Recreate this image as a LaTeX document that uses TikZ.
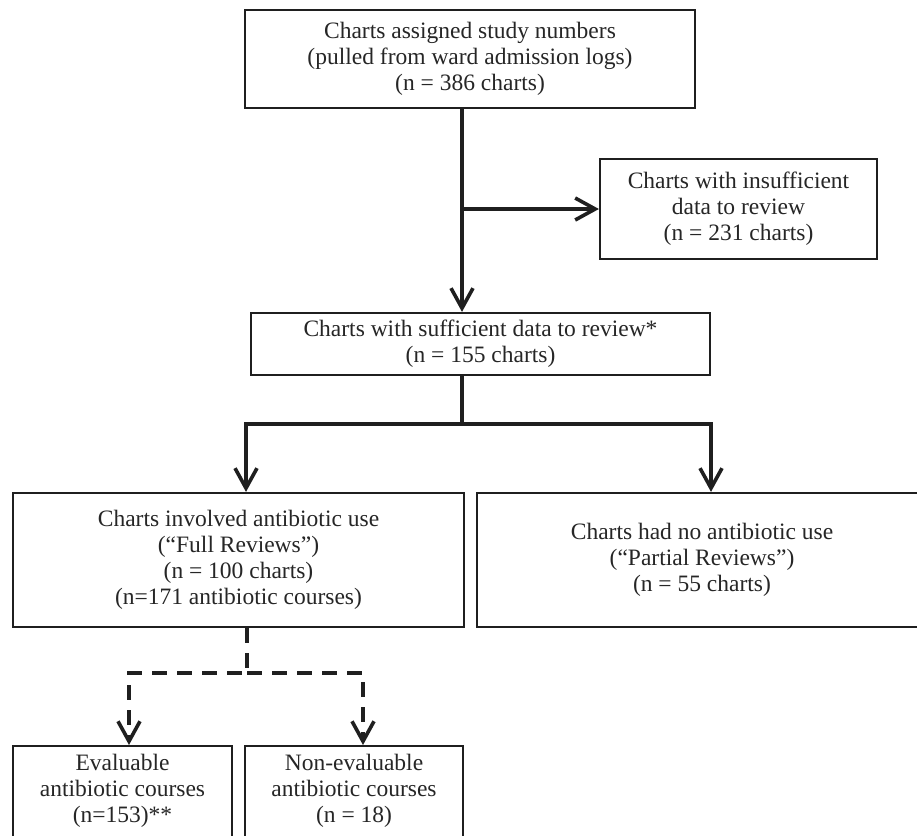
\documentclass[tikz,border=0pt]{standalone}
\usepackage{fontspec}
\setmainfont{Liberation Serif}
\usetikzlibrary{arrows.meta}
\begin{document}
\begin{tikzpicture}[x=1pt,y=-1pt,
  boxbase/.style={draw=black!88, line width=2.2pt, inner sep=0pt,
    text=black!85, font=\fontsize{23.5}{26}\selectfont},
  box/.style={boxbase, align=center},
  topbox/.style={boxbase, anchor=north, text height=16pt, text depth=100pt, inner ysep=8pt},
  conn/.style={line width=3.6pt, draw=black!88},
  tip/.style={-{Straight Barb[length=20pt,width=22pt,line width=3.6pt]}},
  dashconn/.style={conn, dash pattern=on 15pt off 10pt}]
\useasboundingbox (0,0) rectangle (917,835);
\clip (0,0) rectangle (917,835);
\fill[white] (0,0) rectangle (917,835);

\node[box, minimum width=450pt, minimum height=98pt] (b1) at (470,59)
  {Charts assigned study numbers\\(pulled from ward admission logs)\\(n = 386 charts)};
\node[box, minimum width=277pt, minimum height=100pt] (b2) at (738.5,209)
  {Charts with insufficient\\data to review\\(n = 231 charts)};
\node[box, minimum width=459pt, minimum height=62pt] (b3) at (480.5,344)
  {Charts with sufficient data to review*\\(n = 155 charts)};
\node[box, minimum width=451pt, minimum height=134pt] (b4) at (238.5,560)
  {Charts involved antibiotic use\\(``Full Reviews'')\\(n = 100 charts)\\(n=171 antibiotic courses)};
\node[box, minimum width=450pt, minimum height=134pt] (b5) at (702,560)
  {Charts had no antibiotic use\\(``Partial Reviews'')\\(n = 55 charts)};
\node[topbox, minimum width=219pt] (b6) at (122.5,745)
  {\begin{tabular}[t]{@{}c@{}}Evaluable\\antibiotic courses\\(n=153)**\end{tabular}};
\node[topbox, minimum width=218pt] (b7) at (354,745)
  {\begin{tabular}[t]{@{}c@{}}Non-evaluable\\antibiotic courses\\(n = 18)\end{tabular}};

\coordinate (j1) at (462,209);
\coordinate (j2) at (462,424);
\coordinate (jl) at (246,424);
\coordinate (jr) at (711,424);
\coordinate (j3) at (247,673);
\coordinate (dl) at (129,673);
\coordinate (dr) at (363,673);

\draw[conn,tip] (b1.south -| j1) -- (b3.north -| j1);
\draw[conn,tip] (j1) -- (b2.west);
\draw[conn,tip] (b3.south -| j2) -- (j2) -| (b4.north -| jl);
\draw[conn,tip] (j2) -| (b5.north -| jr);
\draw[dashconn,tip] (b4.south -| j3) -- (j3) -| (b6.north -| dl);
\draw[dashconn,tip] (j3) -| (b7.north -| dr);
\end{tikzpicture}
\end{document}
